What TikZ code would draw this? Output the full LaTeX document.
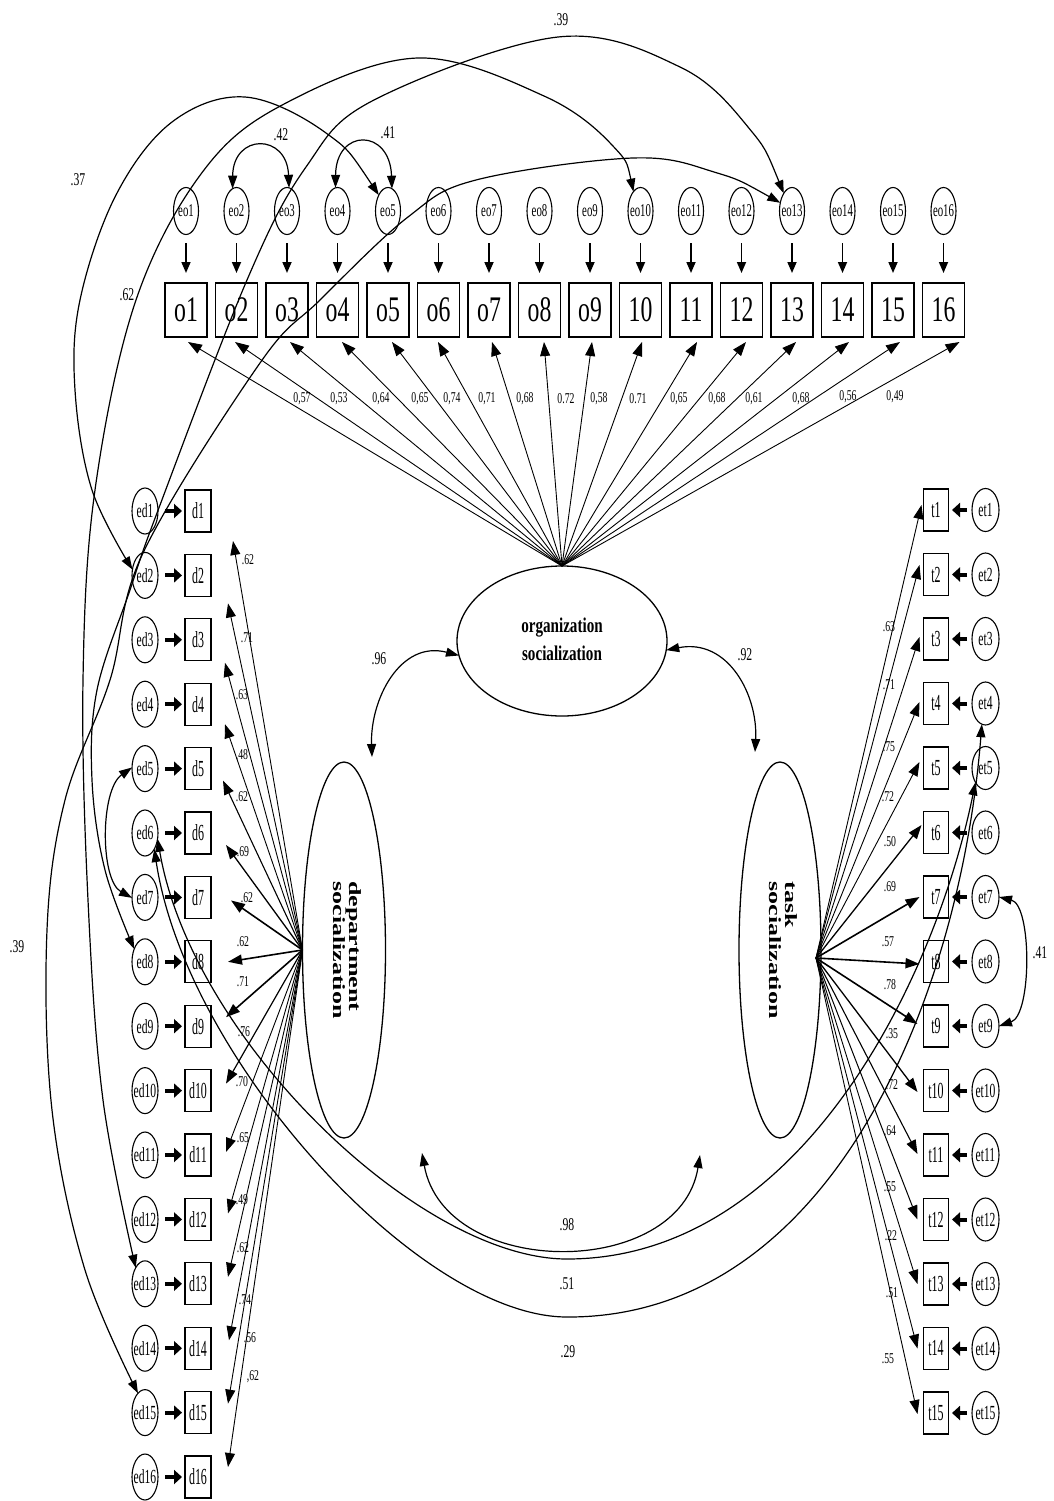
\documentclass[tikz,border=0pt]{standalone}
\usepackage{fontspec}
\setmainfont{Liberation Serif}
\usepackage{graphicx}
\usetikzlibrary{arrows.meta,shapes.geometric,calc}
\newcommand{\hsq}[2][0.65]{\scalebox{#1}[1]{#2}}
\begin{document}
\begin{tikzpicture}[x=1pt,y=-1pt,
  every node/.style={inner sep=0pt,outer sep=0pt},
  eoc/.style={draw,ellipse,line width=1.1pt,minimum width=25pt,minimum height=47pt,font=\fontsize{18}{18}\selectfont},
  obox/.style={draw,rectangle,line width=1.1pt,minimum width=42pt,minimum height=54pt,font=\fontsize{36}{36}\selectfont},
  edc/.style={draw,ellipse,line width=1.1pt,minimum width=26pt,minimum height=46pt,font=\fontsize{20}{20}\selectfont},
  dbox/.style={draw,rectangle,line width=1.1pt,minimum width=26pt,minimum height=42pt,font=\fontsize{23}{23}\selectfont},
  lat/.style={draw,ellipse,line width=1.3pt},
  lab/.style={font=\fontsize{15}{15}\selectfont},
  big/.style={font=\fontsize{18}{18}\selectfont},
  load/.style={line width=0.9pt,-{Triangle[length=14pt,width=10pt]}},
  corr/.style={line width=1.2pt,{Triangle[length=13pt,width=9pt]}-{Triangle[length=13pt,width=9pt]}},
  smallarr/.style={line width=1.7pt,-{Triangle[length=11pt,width=9pt]},shorten <=8.5pt,shorten >=10pt},
  bigarr/.style={line width=4pt,-{Triangle[length=8pt,width=14pt]}}
]
\useasboundingbox (0,0) rectangle (1054,1501);
\fill[white] (0,0) rectangle (1054,1501);

% ---------- organization indicators ----------
\foreach \i in {1,...,16}{
  \pgfmathsetmacro{\xx}{186+50.5*(\i-1)}
  \ifnum\i<10 \def\ol{o\i}\else\def\ol{\i}\fi
  \node[eoc] (eo\i) at (\xx,211) {\makebox[0pt]{\hsq[0.6]{eo\i}}};
  \node[obox] (o\i) at (\xx,310) {\hsq[0.66]{\ol}};
  \draw[smallarr] (eo\i) -- (o\i);
}

% ---------- department indicators ----------
\foreach \j in {1,...,16}{
  \pgfmathsetmacro{\yy}{511+64.4*(\j-1)}
  \node[edc] (ed\j) at (145,\yy) {\makebox[0pt]{\hsq[0.58]{ed\j}}};
  \node[dbox] (d\j) at (198,\yy) {\hsq[0.52]{d\j}};
  \draw[bigarr,shorten <=7pt,shorten >=3pt] (ed\j) -- (d\j);
}

% ---------- task indicators ----------
\foreach \k in {1,...,15}{
  \pgfmathsetmacro{\yy}{510+64.5*(\k-1)}
  \node[edc,minimum width=27pt,minimum height=43pt] (et\k) at (985.5,\yy) {\makebox[0pt]{\hsq[0.58]{et\k}}};
  \node[dbox,minimum width=25pt] (t\k) at (936,\yy) {\hsq[0.52]{t\k}};
  \draw[bigarr,shorten <=5pt,shorten >=3.5pt] (et\k) -- (t\k);
}

% ---------- latent variables ----------
\node[lat,minimum width=210pt,minimum height=150pt] (org) at (562,641)
  {\hsq[0.72]{\fontsize{21}{28}\selectfont\bfseries\begin{tabular}{@{}c@{}}organization\\socialization\end{tabular}}};
\node[lat,minimum width=83pt,minimum height=376pt] (dept) at (344,950) {};
\node[lat,minimum width=82pt,minimum height=376pt] (task) at (780,950) {};
\node[rotate=-90] (depttxt) at (345,950)
  {\scalebox{1}[0.66]{\fontsize{26}{25}\selectfont\bfseries\begin{tabular}{@{}l@{}}department\\socialization\end{tabular}}};
\node[rotate=-90] (tasktxt) at (781,950)
  {\scalebox{1}[0.66]{\fontsize{26}{25}\selectfont\bfseries\begin{tabular}{@{}l@{}}task\\socialization\end{tabular}}};

\coordinate (dsrc) at (dept.west);
\coordinate (tsrc) at ($(task.east)+(-5,8)$);

% ---------- organization loadings ----------
\foreach \i/\dx in {1/2,2/-1.5,3/3,4/4.5,5/4,6/-0.5,7/3,8/4.5,9/2,10/1.5,11/6,12/4.5,13/4,14/6.5,15/7,16/16}
  \draw[load] (org.north) -- ($(o\i.south)+(\dx,5)$);
\node[lab] (lo1) at (302,399) {\hsq{0,57}};
\node[lab] (lo2) at (339,399) {\hsq{0,53}};
\node[lab] (lo3) at (381,399) {\hsq{0,64}};
\node[lab] (lo4) at (420,399) {\hsq{0,65}};
\node[lab] (lo5) at (452,399) {\hsq{0,74}};
\node[lab] (lo6) at (487,399) {\hsq{0,71}};
\node[lab] (lo7) at (525,399) {\hsq{0,68}};
\node[lab] (lo8) at (566,399) {\hsq{0.72}};
\node[lab] (lo9) at (599,399) {\hsq{0,58}};
\node[lab] (lo10) at (638,399) {\hsq{0.71}};
\node[lab] (lo11) at (679,399) {\hsq{0,65}};
\node[lab] (lo12) at (717,399) {\hsq{0,68}};
\node[lab] (lo13) at (754,399) {\hsq{0,61}};
\node[lab] (lo14) at (801,399) {\hsq{0,68}};
\node[lab] (lo15) at (848,397) {\hsq{0,56}};
\node[lab] (lo16) at (895,397) {\hsq{0,49}};

% ---------- department loadings ----------
\foreach \j/\dx/\dy/\w in {1/22/30/0.9,2/17/28/0.9,3/14/23/0.9,4/14/20/0.9,5/12/12/1.1,6/15/12/1.3,7/20/3/1.6,8/17/0/1.6,9/15/-9/1.6,10/15/-7/1.2,11/15/-3/0.9,12/17/-6/0.9,13/17/-7/0.9,14/18/-8/0.9,15/17/-9/0.9,16/17/-10/0.9}
  \draw[load,line width=\w pt] (dsrc) -- ($(d\j.east)+(\dx,\dy)$);
\node[lab] (ld1) at (248,560) {\hsq{.62}};
\node[lab] (ld2) at (247,638) {\hsq{.71}};
\node[lab] (ld3) at (242,695) {\hsq{.63}};
\node[lab] (ld4) at (242,755) {\hsq{.48}};
\node[lab] (ld5) at (242,797) {\hsq{.62}};
\node[lab] (ld6) at (243,852) {\hsq{.69}};
\node[lab] (ld7) at (247,898) {\hsq{.62}};
\node[lab] (ld8) at (243,942) {\hsq{.62}};
\node[lab] (ld9) at (243,982) {\hsq{.71}};
\node[lab] (ld10) at (244,1032) {\hsq{.76}};
\node[lab] (ld11) at (242,1082) {\hsq{.70}};
\node[lab] (ld12) at (243,1138) {\hsq{.65}};
\node[lab] (ld13) at (242,1200) {\hsq{.49}};
\node[lab] (ld14) at (243,1248) {\hsq{.62}};
\node[lab] (ld15) at (245,1300) {\hsq{.74}};
\node[lab] (ld16) at (250,1338) {\hsq{.56}};
\node[lab] (ld17) at (253,1377) {\hsq{,62}};

% ---------- task loadings ----------
\foreach \k/\dx/\dy/\w in {1/-2/-5/0.9,2/-4/-9.5/0.9,3/-4/-2/0.9,4/-4/-1.5/0.9,5/-4/-6/0.9,6/-2/-7.5/1.3,7/-4/0/1.6,8/-4/2.5/1.6,9/-6/-2/1.6,10/-6/1.5/1.3,11/-6/-1/1.1,12/-6/0/1.0,13/-6/0/0.9,14/-6/0/0.9,15/-6/1/0.9}
  \draw[load,line width=\w pt] (tsrc) -- ($(t\k.west)+(\dx,\dy)$);
\node[lab] (lt1) at (889,627) {\hsq{.63}};
\node[lab] (lt2) at (889,685) {\hsq{.71}};
\node[lab] (lt3) at (889,747) {\hsq{.75}};
\node[lab] (lt4) at (888,797) {\hsq{.72}};
\node[lab] (lt5) at (890,842) {\hsq{.50}};
\node[lab] (lt6) at (890,887) {\hsq{.69}};
\node[lab] (lt7) at (888,942) {\hsq{.57}};
\node[lab] (lt8) at (890,985) {\hsq{.78}};
\node[lab] (lt9) at (892,1034) {\hsq{.35}};
\node[lab] (lt10) at (892,1085) {\hsq{.72}};
\node[lab] (lt11) at (890,1131) {\hsq{.64}};
\node[lab] (lt12) at (890,1187) {\hsq{.55}};
\node[lab] (lt13) at (891,1236) {\hsq{.22}};
\node[lab] (lt14) at (892,1293) {\hsq{.51}};
\node[lab] (lt15) at (888,1359) {\hsq{.55}};

% ---------- factor correlations ----------
\draw[corr] (org.188) .. controls (400,640) and (370,700) .. ($(dept.north)+(28,-5)$);
\draw[corr] (org.-5) .. controls (728,638) and (758,695) .. ($(task.north)+(-25,-10)$);
\draw[corr] ($(dept.south)+(78,15)$) .. controls (445,1280) and (680,1280) .. ($(task.south)+(-80,17)$);
\node[big] (c96) at (379,659) {\hsq{.96}};
\node[big] (c92) at (745,655) {\hsq{.92}};
\node[big] (c98) at (567,1225) {\hsq{.98}};

% ---------- error correlations ----------
\draw[corr] (eo2.100) .. controls (233,133) and (287,133) .. (eo3.85);
\draw[corr] (eo4.95) .. controls (336,128) and (390,128) .. (eo5.80);
\node[big] (c42) at (281,135) {\hsq{.42}};
\node[big] (c41a) at (388,133) {\hsq{.41}};

% A: eo5 - ed2
\draw[corr] plot[smooth,tension=0.6] coordinates {(eo5.120) (326,133) (245,97) (172,122) (116,195) (80,300) (75,390) (92,490) (ed2.155)};
% B: eo10 - ed13
\draw[corr] plot[smooth,tension=0.6] coordinates {(eo10.110) (612,145) (544,96) (418,58) (286,103) (204,170) (136,300) (95,490) (83,680) (88,900) (103,1100) (ed13.120)};
% C: eo13 - ed8
\draw[corr] plot[smooth,tension=0.6] coordinates {(eo13.115) (748,127) (680,67) (558,37) (374,100) (306,167) (247,280) (157,513) (130,590) (97,690) (92,780) (105,870) (ed8.130)};
% D: eo13 - ed15
\draw[corr] plot[smooth,tension=0.6] coordinates {(eo13.145) (714,172) (633,158) (476,180) (408,217) (320,300) (260,363) (143,553) (110,680) (65,800) (47,930) (52,1110) (85,1270) (ed15.110)};
\node[big] (c37) at (78,180) {\hsq{.37}};
\node[big] (c62) at (127,295) {\hsq{.62}};
\node[big] (c39a) at (561,20) {\hsq{.39}};
\node[big] (c39b) at (17,947) {\hsq{.39}};

% ed5 - ed7
\draw[corr] (ed5.175) .. controls (100,790) and (100,880) .. (ed7.182);
% et7 - et9
\draw[corr] (et7.0) .. controls (1032,905) and (1032,1015) .. (et9.0);
\node[big] (c41b) at (1040,953) {\hsq{.41}};

% ed6 - et5 and ed6 - et4
\draw[corr] (ed6.-25) .. controls (192,1040) and (420,1259) .. (567,1259) .. controls (800,1259) and (935,980) .. (et5.-125);
\draw[corr] (ed6.-60) .. controls (186,1060) and (420,1317) .. (567,1317) .. controls (830,1318) and (960,1000) .. (et4.-100);
\node[big] (c51) at (567,1284) {\hsq{.51}};
\node[big] (c29) at (568,1352) {\hsq{.29}};
\end{tikzpicture}
\end{document}
